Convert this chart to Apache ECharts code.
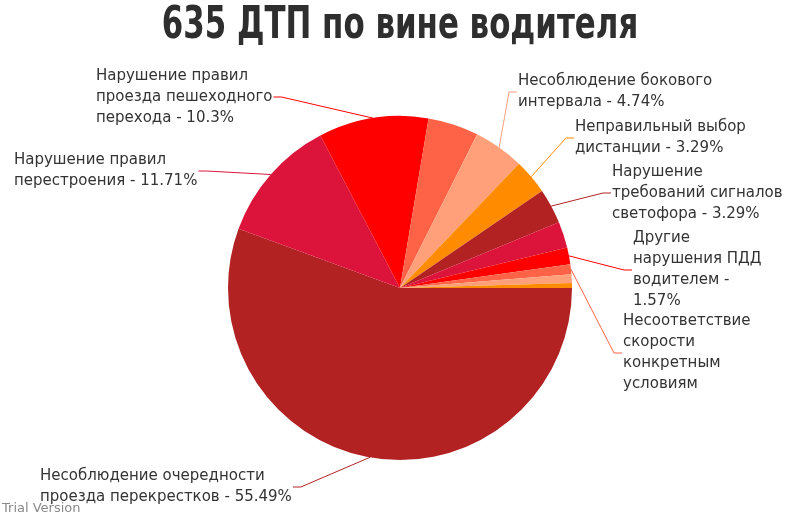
<!DOCTYPE html>
<html>
<head>
<meta charset="utf-8">
<script src="https://cdn.jsdelivr.net/npm/echarts@6/dist/echarts.min.js"></script>
<style>
html, body { margin: 0; background: #fff; }
#chart { width: 800px; height: 520px; }
</style>
</head>
<body>
<div id="chart"></div>
<script>
const titleText = '635 ДТП по вине водителя';

// slices, in drawing order (clockwise from 3 o'clock)
const categories = [
    'Несоблюдение очередности проезда перекрестков',
    'Нарушение правил перестроения',
    'Нарушение правил проезда пешеходного перехода',
    'Прочие нарушения (1)',
    'Несоблюдение бокового интервала',
    'Неправильный выбор дистанции',
    'Нарушение требований сигналов светофора',
    'Прочие нарушения (2)',
    'Другие нарушения ПДД водителем',
    'Несоответствие скорости конкретным условиям',
    'Прочие нарушения (3)',
    'Прочие нарушения (4)'
];
const values = [55.49, 11.71, 10.3, 4.74, 4.74, 3.29, 3.29, 2.47, 1.57, 0.94, 0.79, 0.47];

// label text as it is wrapped on the picture, '' = no label
const labels = [
    'Несоблюдение очередности\nпроезда перекрестков - 55.49%',
    'Нарушение правил\nперестроения - 11.71%',
    'Нарушение правил\nпроезда пешеходного\nперехода - 10.3%',
    '',
    'Несоблюдение бокового\nинтервала - 4.74%',
    'Неправильный выбор\nдистанции - 3.29%',
    'Нарушение\nтребований сигналов\nсветофора - 3.29%',
    '',
    'Другие\nнарушения ПДД\nводителем -\n1.57%',
    'Несоответствие\nскорости\nконкретным\nусловиям',
    '',
    ''
];

const palette = ['#B22222', '#DC143C', '#FF0000', '#FF6347', '#FFA07A', '#FF8C00'];

let chart = echarts.init(document.getElementById('chart'));

// text anchor of each shown label: left edge x, middle y; side = where the line comes from
const labelSpots = {
    0: { x: 40, y: 487, side: 'left' },
    1: { x: 14, y: 171, side: 'left' },
    2: { x: 96, y: 97, side: 'left' },
    4: { x: 518, y: 92, side: 'right' },
    5: { x: 575, y: 138, side: 'right' },
    6: { x: 612, y: 193, side: 'right' },
    8: { x: 633, y: 270, side: 'right' },
    9: { x: 623, y: 353, side: 'right' }
};

let pieData = values.map((v, i) => {
    let shown = labels[i] !== '';
    return {
        name: categories[i],
        value: v,
        itemStyle: { color: palette[i % palette.length] },
        label: { show: shown },
        labelLine: { show: shown }
    };
});

chart.setOption({
    animation: false,
    graphic: [
        {
            // narrow heavy headline, squeezed horizontally
            type: 'text',
            x: 400,
            y: 5,
            scaleX: 0.78,
            style: {
                text: titleText,
                font: 'bold 44px "DejaVu Sans Condensed", "DejaVu Sans", sans-serif',
                fill: '#2e2e2e',
                align: 'center',
                verticalAlign: 'top'
            }
        },
        {
            type: 'text',
            left: 2,
            top: 502,
            style: {
                text: 'Trial Version',
                font: '13px "DejaVu Sans", sans-serif',
                fill: '#8a8a8a'
            }
        }
    ],
    series: [{
        type: 'pie',
        center: [400, 288],
        radius: 172,
        startAngle: 0,
        clockwise: true,
        avoidLabelOverlap: false,
        data: pieData,
        label: {
            formatter: p => labels[p.dataIndex],
            fontFamily: 'DejaVu Sans',
            fontSize: 15,
            lineHeight: 21,
            color: '#333'
        },
        labelLine: {
            length: 20,
            length2: 10,
            lineStyle: { width: 1 }
        },
        labelLayout: function (params) {
            let spot = labelSpots[params.dataIndex];
            if (!spot || !params.labelLinePoints) return {};
            let start = params.labelLinePoints[0];
            let w = params.labelRect.width;
            let pts;
            if (spot.side === 'right') {
                pts = [start, [spot.x - 9, spot.y], [spot.x - 1, spot.y]];
            } else {
                pts = [start, [spot.x + w + 9, spot.y], [spot.x + w + 1, spot.y]];
            }
            return {
                x: spot.x,
                y: spot.y,
                align: 'left',
                verticalAlign: 'middle',
                labelLinePoints: pts
            };
        }
    }]
});
</script>
</body>
</html>
